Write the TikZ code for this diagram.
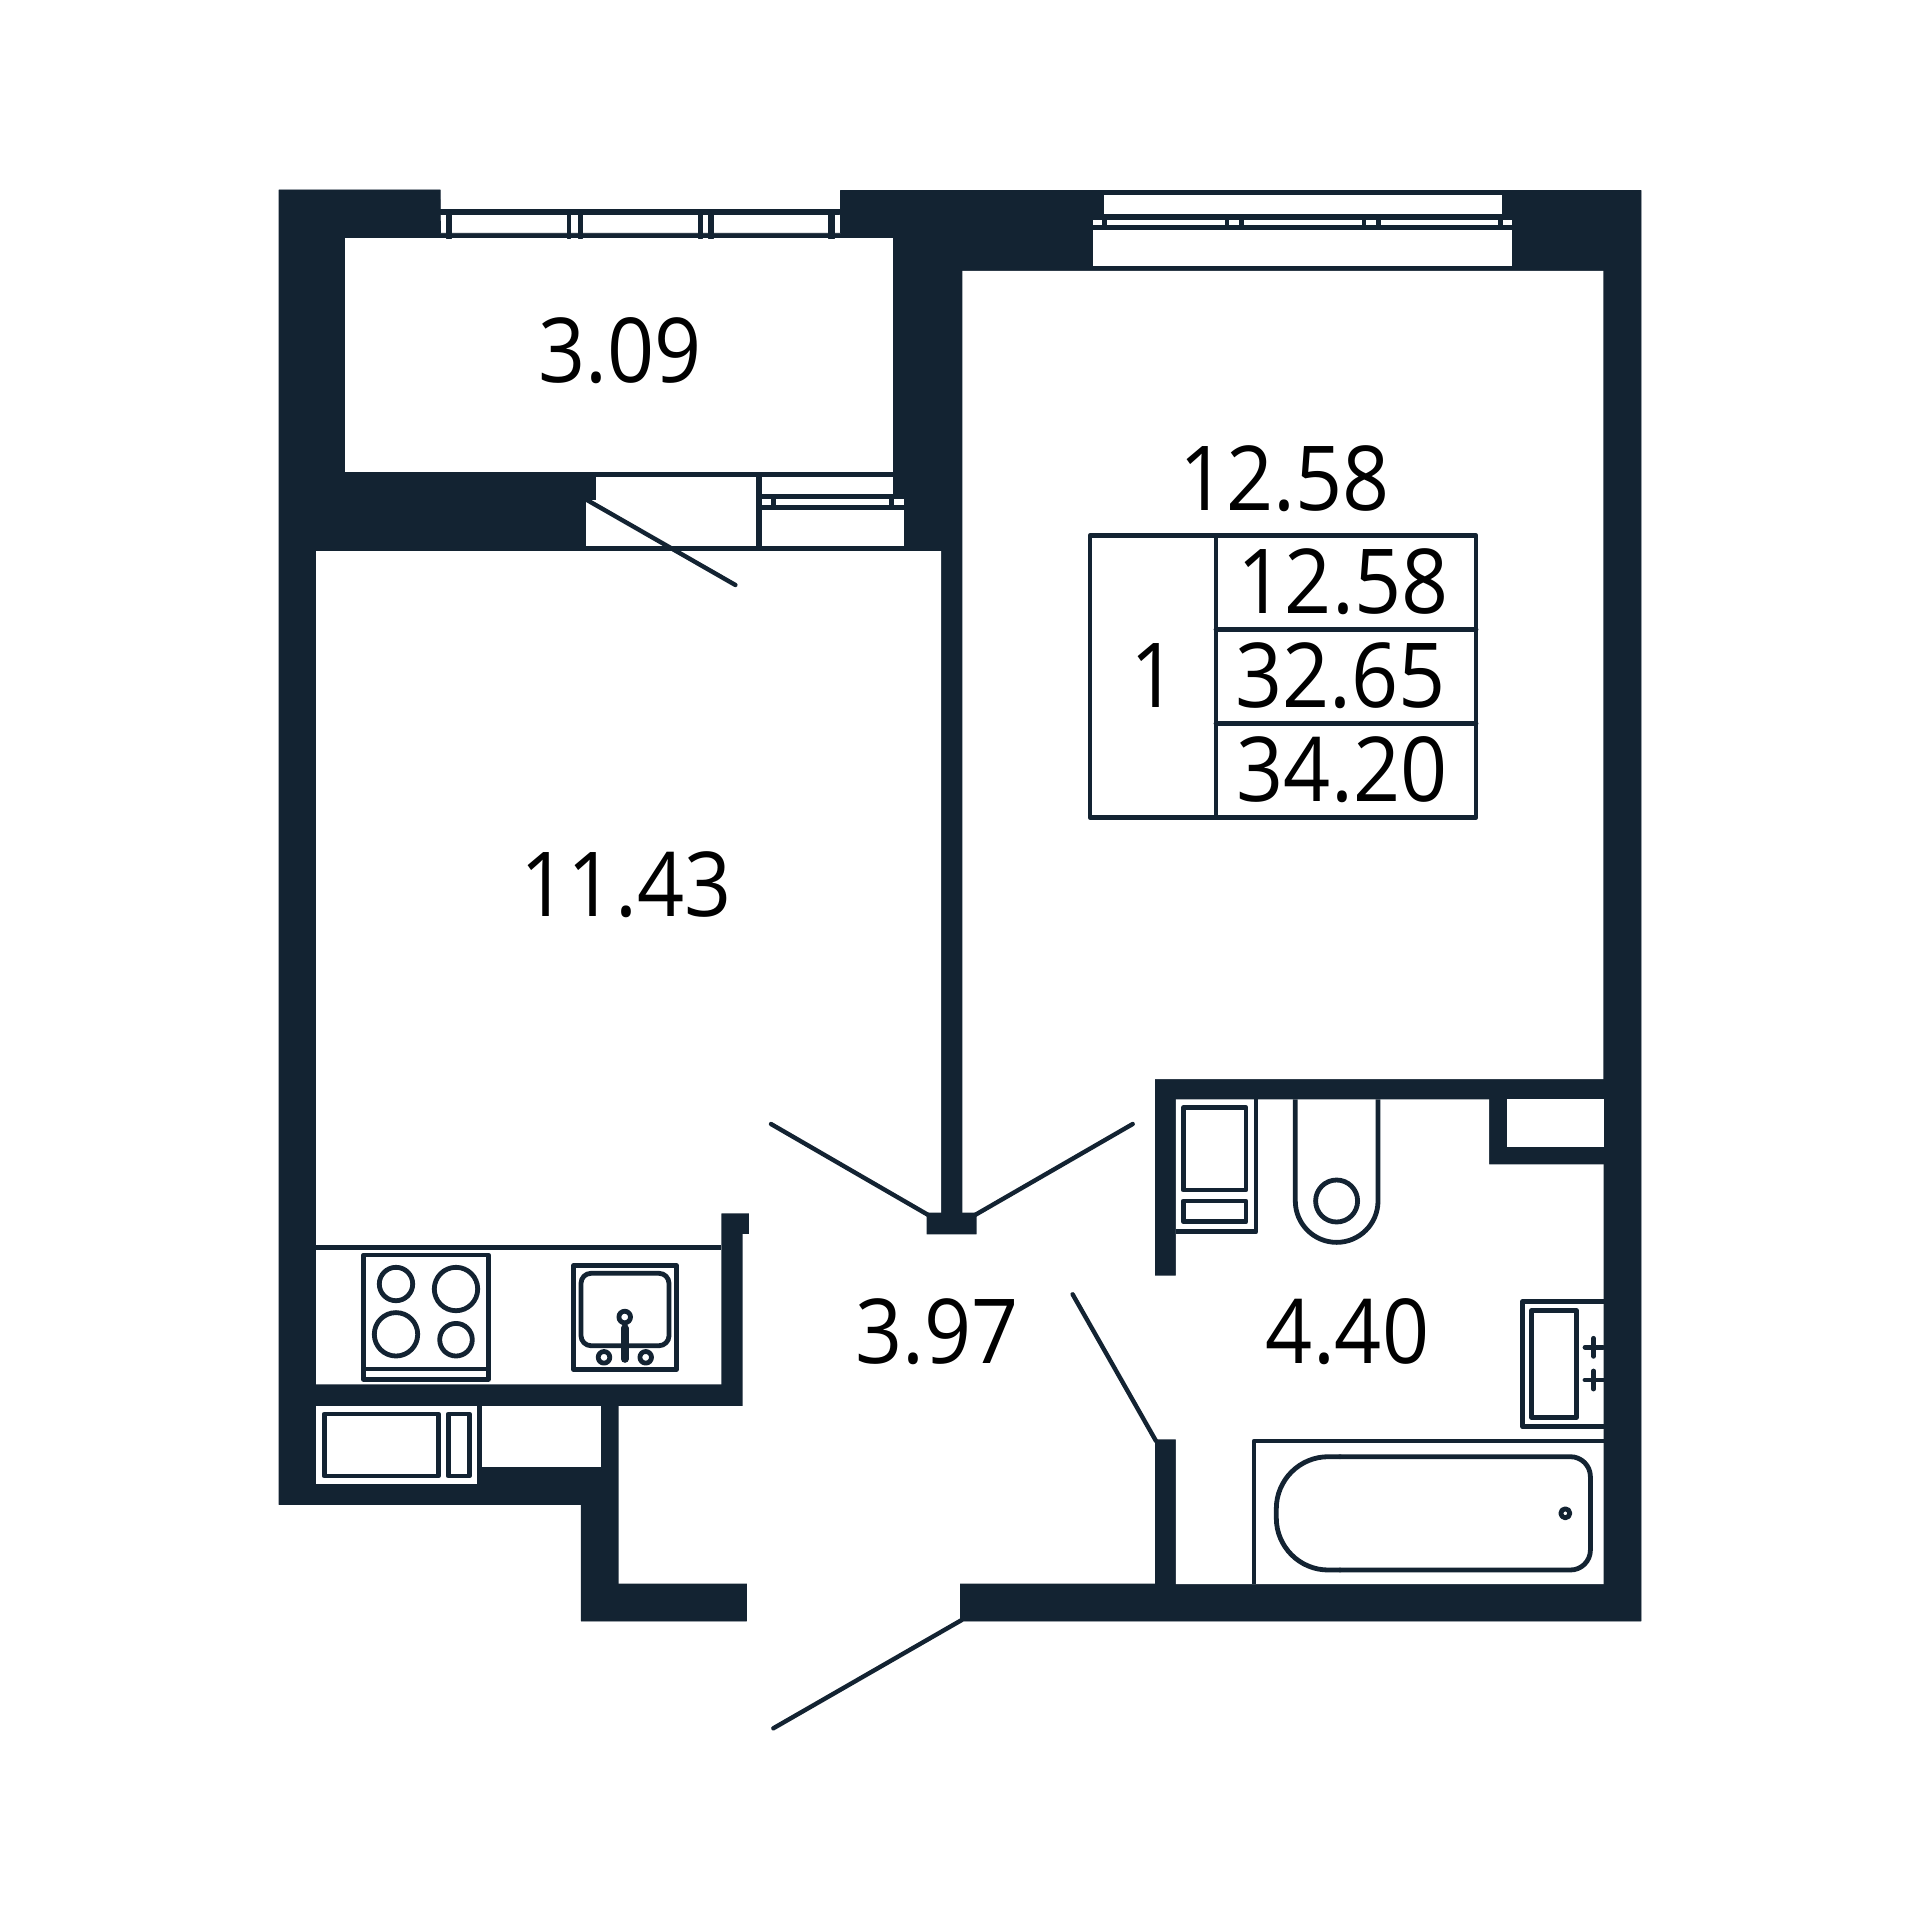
\documentclass[tikz,border=0pt]{standalone}
\usepackage{fontspec}
\setmainfont[FakeStretch=0.92]{Open Sans}
\definecolor{ink}{HTML}{132332}
\tikzset{
  wall/.style={fill=ink,draw=ink,line width=0.4pt,line join=round},
  gap/.style={fill=white,draw=none},
  thin/.style={draw=ink,line width=2.4pt,line join=round,line cap=round},
  leaf/.style={draw=ink,line width=2.2pt,line cap=round},
  area/.style={font=\fontsize{44.8pt}{50pt}\selectfont,text=black,inner sep=0pt,anchor=base}
}
\begin{document}
\begin{tikzpicture}[x=0.5pt,y=-0.5pt]
\useasboundingbox (0,0) rectangle (1920,1920);
% building silhouette
\fill[wall] (279,190) -- (440.2,190) -- (440.4,233.3) -- (840.5,233.3) -- (840.5,190.5) -- (1641,190.5) -- (1641,1621) -- (960.5,1621) -- (960.5,1570) -- (746.5,1570) -- (746.5,1621) -- (581.2,1621) -- (581.2,1504.5) -- (279,1504.5) -- cycle;
% rooms
\fill[gap] (344.8,238.3) rectangle (893,471.7);
\fill[gap] (316,551) -- (941,551) -- (941,1212.7) -- (926.7,1212.7) -- (926.7,1234.3) -- (976.7,1234.3) -- (976.7,1212.7) -- (962.3,1212.7) -- (962.3,271) -- (1603.3,271) -- (1603.3,1079) -- (1154.8,1079) -- (1154.8,1275.7) -- (1175.8,1275.7) -- (1175.8,1099.3) -- (1489,1099.3) -- (1489,1164.3) -- (1603.5,1164.3) -- (1603.5,1584) -- (1175.8,1584) -- (1175.8,1439.3) -- (1154.8,1439.3) -- (1154.8,1583.5) -- (618.7,1583.7) -- (618.7,1406) -- (742.7,1406) -- (742.7,1234) -- (749,1234) -- (749,1213.3) -- (721.3,1213.3) -- (721.3,1384.3) -- (316,1384.3) -- cycle;
\fill[gap] (1507,1099.3) rectangle (1603.5,1146.7);
\fill[gap] (316,1406) rectangle (476.7,1484);
\fill[gap] (482,1406) rectangle (601,1467.3);
% top-left window
\fill[wall] (440.4,209.3) rectangle (839.5,214);
\foreach \a/\b in {446/451,567/570.7,578/582,698/702,708.7/713,828.3/834}
  \fill[wall] (\a,209.3) rectangle (\b,238);
% top-right window
\fill[gap] (1103.5,195) rectangle (1501.8,214.3);
\fill[gap] (1093,230) rectangle (1512,266.3);
\foreach \a/\b in {1093/1102.4,1107/1225,1229/1239,1244/1361.5,1366/1376,1381/1498,1503/1512}
  \fill[gap] (\a,220) rectangle (\b,225);
% balcony door and window
\fill[gap] (595.7,476.7) rectangle (756.4,501);
\fill[gap] (585.9,500) rectangle (756.4,546);
\fill[gap] (761.8,476.7) rectangle (893,494);
\fill[gap] (761.8,510) rectangle (903.8,546);
\foreach \a/\b in {761.8/771,776/888.6,894/903.8}
  \fill[gap] (\a,499.3) rectangle (\b,505);
% door leaves
\coordinate (d1a) at (587,500); \coordinate (d1b) at (735.4,585);
\coordinate (d2a) at (771,1124); \coordinate (d2b) at (928.3,1215);
\coordinate (d3a) at (1132.7,1124); \coordinate (d3b) at (975,1215);
\coordinate (d4a) at (1072.6,1294.3); \coordinate (d4b) at (1156,1441);
\coordinate (d5a) at (773.3,1728.3); \coordinate (d5b) at (961.7,1620);
\draw[leaf] (d1a) -- (d1b);
\draw[leaf] (d2a) -- (d2b);
\draw[leaf] (d3a) -- (d3b);
\draw[leaf] (d4a) -- (d4b);
\draw[leaf] (d5a) -- (d5b);
% kitchen
\draw[thin,line cap=butt] (316,1247.5) -- (721.3,1247.5);
\draw[thin] (363.7,1255) rectangle (488.3,1379.3);
\draw[thin] (363.7,1369) -- (488.3,1369);
\draw[thin] (396,1284) circle[radius=16.7];
\draw[thin] (456,1289) circle[radius=21.7];
\draw[thin] (396,1334.3) circle[radius=21.7];
\draw[thin] (456,1339.7) circle[radius=16.3];
\draw[thin] (573.3,1265.7) rectangle (676.7,1369.3);
\draw[thin,rounded corners=5pt] (581,1273.3) rectangle (669,1345.7);
\draw[thin] (624.7,1317) circle[radius=5.8];
\draw[draw=ink,line width=3.8pt,line cap=round] (624.7,1328) -- (624.7,1359);
\draw[thin] (604,1357.3) circle[radius=5.8];
\draw[thin] (645.7,1357.3) circle[radius=5.8];
\draw[thin] (324.3,1414) rectangle (438.3,1476);
\draw[thin] (448.3,1414) rectangle (469.3,1476);
\draw[thin,line cap=butt] (479.3,1406) -- (479.3,1467);
% bathroom
\draw[thin,line cap=butt] (1175.8,1231.7) -- (1256,1231.7) -- (1256,1099.3);
\draw[thin] (1183.4,1107.7) rectangle (1246,1190);
\draw[thin] (1183.4,1201) rectangle (1246,1221.7);
\draw[thin,line cap=butt] (1295.3,1099.3) -- (1295.3,1201) arc[start angle=180,end angle=0,radius=41.35] -- (1378,1099.3);
\draw[thin] (1336.6,1201) circle[radius=21];
\draw[thin,line cap=butt] (1603.5,1301.7) -- (1522.6,1301.7) -- (1522.6,1426.7) -- (1603.5,1426.7);
\draw[thin] (1531.5,1310.7) rectangle (1576.6,1417.3);
\draw[thin] (1593.5,1338.3) -- (1593.5,1356.3);
\draw[thin] (1585,1347.3) -- (1603,1347.3);
\draw[thin] (1593.5,1371) -- (1593.5,1389);
\draw[thin] (1585,1380) -- (1603,1380);
\draw[thin,line cap=butt] (1603.5,1441) -- (1254,1441) -- (1254,1584);
\draw[thin,rounded corners=26pt] (1340,1456.7) -- (1276.3,1456.7) -- (1276.3,1570) -- (1340,1570);
\draw[thin,rounded corners=10pt] (1340,1456.7) -- (1590.4,1456.7) -- (1590.4,1570) -- (1340,1570);
\draw[thin] (1565.3,1513.3) circle[radius=4.5];
% legend table
\draw[thin] (1090,535.7) rectangle (1476,817.3);
\draw[thin] (1216,535.7) -- (1216,817.3);
\draw[thin] (1216,629.3) -- (1476,629.3);
\draw[thin] (1216,723.3) -- (1476,723.3);
% labels
\node[area] (a1) at (620,382.5) {3.09};
\node[area] (a2) at (626,916.5) {11.43};
\node[area] (a3) at (937,1363.5) {3.97};
\node[area] (a4) at (1347.5,1363.5) {4.40};
\node[area] (a5) at (1284.5,510.5) {12.58};
\node[area] (t0) at (1154,707) {1};
\node[area] (t1) at (1343,613.8) {12.58};
\node[area] (t2) at (1340.5,707) {32.65};
\node[area] (t3) at (1342,801.5) {34.20};
\end{tikzpicture}
\end{document}
